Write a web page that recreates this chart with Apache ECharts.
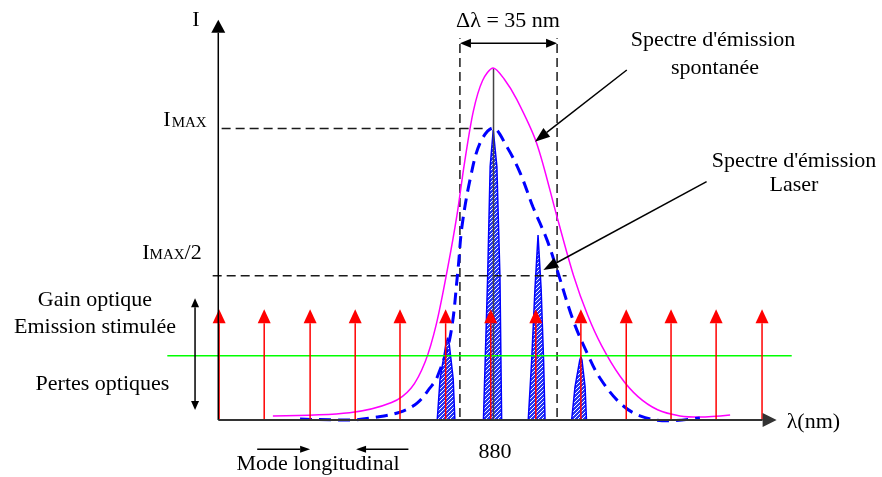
<!DOCTYPE html>
<html>
<head>
<meta charset="utf-8">
<script src="https://cdn.jsdelivr.net/npm/echarts@6/dist/echarts.min.js"></script>
<style>
  html, body { margin: 0; padding: 0; background: #fff; }
  #chart { width: 882px; height: 477px; }
</style>
</head>
<body>
<div id="chart"></div>
<script>
// longitudinal modes (nm) and the height of the red arrow tips
var modes = [783.4, 799.5, 815.9, 832, 848, 864.3, 880.4, 896.5, 912.6, 928.8, 944.8, 960.9, 977.3];
var modeTop = 38.0;

// spontaneous emission spectrum (pink)
var spontaneous = [
  [802.6, 1.4], [830, 2.5], [845, 6], [852, 11], [857, 20], [861, 33], [865, 52],
  [868.3, 70], [871, 88], [874.2, 106], [877.5, 116.5], [881.3, 120.8], [885.2, 117],
  [889.7, 110], [896.8, 95], [904, 70], [910, 49.5], [915, 36], [920, 25.5], [926.6, 15],
  [933, 8], [940, 3.5], [948, 1.4], [955.1, 1.0], [965.9, 1.7]
];

// laser envelope (blue dashed)
var envelope = [
  [812.3, 0.3], [830.1, 0], [839.8, 1.0], [848.0, 2.7], [854.1, 5.8], [858.7, 11], [861.2, 14.5],
  [865.9, 28.5], [868.7, 51.5], [870.1, 66.2], [873.0, 82.4], [876.6, 95.1], [881.2, 100.2],
  [886.2, 93.7], [890.9, 84.8], [895.5, 73.1], [900.5, 61.8], [904.1, 51.5], [909.8, 34.3],
  [914.8, 23.0], [919.4, 14.4], [926.6, 5.8], [933.7, 1.4], [943.4, -0.3], [955.1, 0.7]
];

// laser lines (hatched blue peaks)
var peak1 = [[861.3, 0], [862.3, 14], [864.4, 26], [865.0, 28.2], [865.6, 26], [867.0, 14], [867.6, 0]];
var peak2 = [[877.8, 0], [879.3, 49], [880.2, 87], [881.3, 99.5], [882.6, 87], [883.7, 49], [884.3, 0]];
var peak3 = [[893.8, 0], [895.0, 20], [896.2, 45], [897.3, 63.5], [898.4, 45], [899.3, 20], [899.8, 0]];
var peak4 = [[909.3, 0], [910.5, 11.4], [912.2, 20.5], [912.6, 21.7], [913.0, 20.5], [914.1, 11.4], [914.6, 0]];

var lossLevel = 22;          // green line
var lossRange = [764.9, 987.9];
var iMax = 100, iHalf = 49.5;
var dLambda = [869.4, 904.1]; // 35 nm band
var center = 881.4;

// dashed guides [x1, y1, x2, y2]
var guides = [
  [784.3, iMax, 879.0, iMax],
  [781.1, iHalf, 907.5, iHalf],
  [dLambda[0], 1, dLambda[0], 131],
  [dLambda[1], 1, dLambda[1], 131]
];
var centerLine = [[center, 0, center, 120.7]];

var axesArrows = [[783.1, 0, 783.1, 137.3], [783.1, 0, 982.5, 0]];
var labelArrows = [[929.0, 120.1, 896.2, 95.5], [957.5, 81.8, 899.2, 51.5]];
var widthArrow = [[dLambda[0], 129.3, dLambda[1], 129.3]];
var gainArrow = [[774.8, 3.4, 774.8, 41.8]];
var modeArrows = [[797.0, -10.05, 815.9, -10.05], [851.0, -10.05, 832.3, -10.05]];

var redArrows = modes.map(function (m) { return [m, 0, m, modeTop]; });

function hatch() {
  var c = document.createElement('canvas');
  c.width = 4; c.height = 4;
  var g = c.getContext('2d');
  g.fillStyle = '#2536f5';
  g.fillRect(0, 0, 4, 4);
  g.fillStyle = '#ffffff';
  g.fillRect(0, 0, 1, 1);
  g.fillRect(2, 2, 1, 1);
  g.fillRect(1, 3, 1, 1);
  g.fillRect(3, 1, 1, 1);
  return c;
}
var pattern = { image: hatch(), repeat: 'repeat' };

function arrowRender(o) {
  return function (params, api) {
    var a = api.coord([api.value(0), api.value(1)]);
    var b = api.coord([api.value(2), api.value(3)]);
    var dx = b[0] - a[0], dy = b[1] - a[1];
    var len = Math.sqrt(dx * dx + dy * dy);
    var ux = dx / len, uy = dy / len;
    var nx = -uy, ny = ux;
    var s = o.both ? [a[0] + ux * o.head, a[1] + uy * o.head] : a;
    var e = [b[0] - ux * o.head, b[1] - uy * o.head];
    var kids = [{
      type: 'line',
      shape: { x1: s[0], y1: s[1], x2: e[0], y2: e[1] },
      style: { stroke: o.color, lineWidth: o.width }
    }];
    function head(tip, vx, vy) {
      var bx = tip[0] - vx * o.head, by = tip[1] - vy * o.head;
      kids.push({
        type: 'polygon',
        shape: { points: [tip, [bx + nx * o.w / 2, by + ny * o.w / 2], [bx - nx * o.w / 2, by - ny * o.w / 2]] },
        style: { fill: o.color }
      });
    }
    head(b, ux, uy);
    if (o.both) head(a, -ux, -uy);
    return { type: 'group', children: kids };
  };
}

function segRender(o) {
  return function (params, api) {
    var a = api.coord([api.value(0), api.value(1)]);
    var b = api.coord([api.value(2), api.value(3)]);
    return {
      type: 'line',
      shape: { x1: a[0], y1: a[1], x2: b[0], y2: b[1] },
      style: { stroke: o.color, lineWidth: o.width, lineDash: o.dash || null }
    };
  };
}

function customSeries(data, render, z) {
  return {
    type: 'custom', data: data, renderItem: render, z: z, silent: true,
    encode: { x: [0, 2], y: [1, 3] }
  };
}

function peakSeries(data) {
  return {
    type: 'line', data: data, symbol: 'none', z: 2, silent: true,
    lineStyle: { color: '#0000ff', width: 1.5 },
    areaStyle: { color: pattern, opacity: 1, origin: 0 }
  };
}

var serif = '"Liberation Serif", "Times New Roman", serif';
function txt(x, y, s, size, align) {
  return {
    type: 'text', x: x, y: y, z: 100,
    style: {
      text: s, fill: '#000', font: size + 'px ' + serif,
      align: align || 'center', verticalAlign: 'middle'
    }
  };
}

var chart = echarts.init(document.getElementById('chart'));
chart.setOption({
  animation: false,
  backgroundColor: '#fff',
  grid: { left: 153.6, top: 12, width: 672, height: 451.7 },
  xAxis: { type: 'value', min: 760, max: 1000, show: false },
  yAxis: { type: 'value', min: -15, max: 140, show: false },
  series: [
    peakSeries(peak1), peakSeries(peak2), peakSeries(peak3), peakSeries(peak4),
    customSeries(guides, segRender({ color: '#1a1a1a', width: 1.5, dash: [9, 5] }), 3),
    customSeries(centerLine, segRender({ color: '#444', width: 1.5 }), 3),
    {
      type: 'line', data: spontaneous, symbol: 'none', smooth: 0.3, z: 4, silent: true,
      lineStyle: { color: '#ff00ff', width: 1.5 }
    },
    {
      type: 'line', data: envelope, symbol: 'none', smooth: 0.35, z: 5, silent: true,
      lineStyle: { color: '#0000ff', width: 3, type: [12, 7] }
    },
    {
      type: 'line', data: [[lossRange[0], lossLevel], [lossRange[1], lossLevel]], symbol: 'none', z: 6, silent: true,
      lineStyle: { color: '#00ff00', width: 1.5 }
    },
    customSeries(redArrows, arrowRender({ color: '#ff0000', width: 1.5, head: 14, w: 13 }), 7),
    customSeries([axesArrows[0]], arrowRender({ color: '#000', width: 1.5, head: 13, w: 14 }), 8),
    customSeries([axesArrows[1]], arrowRender({ color: '#333', width: 2, head: 14, w: 14 }), 8),
    customSeries(labelArrows, arrowRender({ color: '#000', width: 1.5, head: 15, w: 11 }), 8),
    customSeries(widthArrow, arrowRender({ color: '#000', width: 1.5, head: 11, w: 9, both: true }), 8),
    customSeries(gainArrow, arrowRender({ color: '#000', width: 1.5, head: 9, w: 8, both: true }), 8),
    customSeries(modeArrows, arrowRender({ color: '#000', width: 1.5, head: 10, w: 7 }), 8)
  ],
  graphic: [
    txt(196, 20, 'I', 22),
    txt(508, 21, 'Δλ = 35 nm', 22),
    txt(713, 40, "Spectre d'émission", 22),
    txt(715, 68, 'spontanée', 22),
    txt(794, 161, "Spectre d'émission", 22),
    txt(794, 185, 'Laser', 22),
    txt(170.5, 120, 'I', 22, 'right'),
    txt(171.7, 123, 'MAX', 15, 'left'),
    txt(149.6, 253, 'I', 22, 'right'),
    txt(149.6, 255, 'MAX', 15, 'left'),
    txt(201.7, 253, '/2', 22, 'right'),
    txt(95, 300.5, 'Gain optique', 22),
    txt(95, 327.5, 'Emission stimulée', 22),
    txt(102.5, 384.5, 'Pertes optiques', 22),
    txt(786.7, 422, 'λ(nm)', 22, 'left'),
    txt(495, 452.5, '880', 22),
    txt(318, 464.5, 'Mode longitudinal', 22)
  ]
});
</script>
</body>
</html>
